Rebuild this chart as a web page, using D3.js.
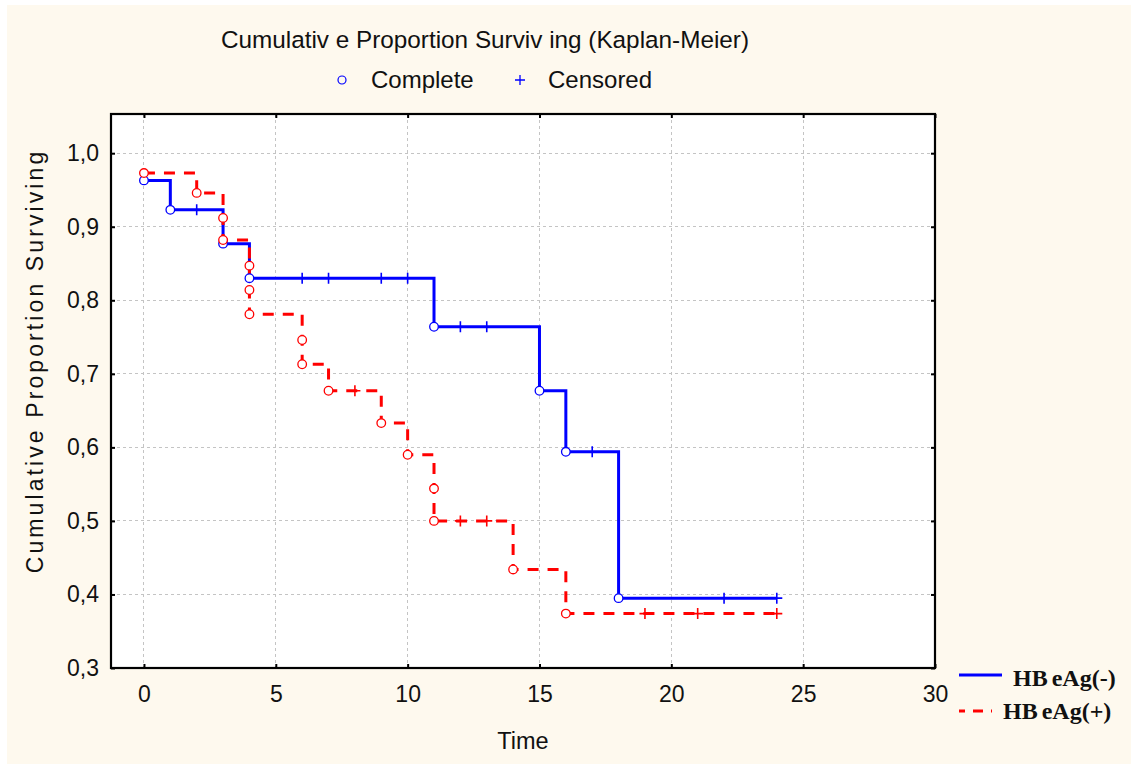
<!DOCTYPE html>
<html>
<head>
<meta charset="utf-8">
<script src="https://cdn.jsdelivr.net/npm/d3@7"></script>
<style>
  html, body { margin: 0; padding: 0; background: #ffffff; }
  svg { display: block; }
</style>
</head>
<body>
<svg id="chart" width="1131" height="765"></svg>
<script>
// Kaplan-Meier records per group: time, survival after the record, status
// ("C" = complete / event, "+" = censored, survival carried forward)
const negTime   = [0, 1, 2, 3, 4, 6, 7, 9, 10, 11, 12, 13, 15, 16, 17, 18, 22, 24];
const negSurv   = [0.963, 0.923, 0.923, 0.877, 0.830, 0.830, 0.830, 0.830, 0.830, 0.764, 0.764, 0.764, 0.677, 0.594, 0.594, 0.395, 0.395, 0.395];
const negStatus = ["C", "C", "+", "C", "C", "+", "+", "+", "+", "C", "+", "+", "C", "C", "+", "C", "+", "+"];

const posTime   = [0, 2, 3, 3, 4, 4, 4, 6, 6, 7, 8, 9, 10, 11, 11, 12, 13, 14, 16, 19, 21, 24];
const posSurv   = [0.973, 0.946, 0.912, 0.882, 0.847, 0.814, 0.781, 0.746, 0.713, 0.677, 0.677, 0.633, 0.590, 0.544, 0.500, 0.500, 0.500, 0.434, 0.374, 0.374, 0.374, 0.374];
const posStatus = ["C", "C", "C", "C", "C", "C", "C", "C", "C", "C", "+", "C", "C", "C", "C", "+", "+", "C", "C", "+", "+", "+"];

const groupNames = ["HBeAg(-)", "HBeAg(+)"];
const xTicks = [0, 5, 10, 15, 20, 25, 30];
const yTicks = [0.3, 0.4, 0.5, 0.6, 0.7, 0.8, 0.9, 1.0];

const chartTitle = "Cumulativ e Proportion Surviv ing (Kaplan-Meier)";
const xTitle = "Time";
const yTitle = "Cumulative Proportion Surviving";

const sans = "'Liberation Sans', Arial, sans-serif";
const serif = "'Liberation Serif', 'Times New Roman', serif";

const svg = d3.select("#chart");

// page background
svg.append("rect").attr("x", 7).attr("y", 5).attr("width", 1124).attr("height", 759)
  .attr("fill", "#fef9ee");

const plot = { left: 111, top: 114, right: 935, bottom: 668 };

const x = d3.scaleLinear().domain([-1.25, 30]).range([plot.left, plot.right]);
const y = d3.scaleLinear().domain([0.3, 1.0533]).range([plot.bottom, plot.top]);

// plot area
svg.append("rect")
  .attr("x", plot.left).attr("y", plot.top)
  .attr("width", plot.right - plot.left).attr("height", plot.bottom - plot.top)
  .attr("fill", "#ffffff");

// grid lines
const grid = svg.append("g").attr("stroke", "#c4c4c4").attr("stroke-width", 1)
  .attr("stroke-dasharray", "3,3").attr("shape-rendering", "crispEdges");
grid.selectAll("line.v").data(xTicks.filter(t => t < 30)).join("line")
  .attr("class", "v")
  .attr("x1", d => x(d)).attr("x2", d => x(d))
  .attr("y1", plot.top).attr("y2", plot.bottom);
grid.selectAll("line.h").data(yTicks.filter(t => t > 0.3)).join("line")
  .attr("class", "h")
  .attr("x1", plot.left).attr("x2", plot.right)
  .attr("y1", d => y(d)).attr("y2", d => y(d));

// axes with inward ticks
const fmt = d => d.toFixed(1).replace(".", ",");
const axisBottom = d3.axisBottom(x).tickValues(xTicks).tickSize(-4).tickPadding(17.5).tickFormat(d3.format("d"));
const axisTop = d3.axisTop(x).tickValues(xTicks).tickSize(-4).tickFormat("");
const axisLeft = d3.axisLeft(y).tickValues(yTicks).tickSize(-4).tickPadding(12).tickFormat(fmt);
const axisRight = d3.axisRight(y).tickValues(yTicks).tickSize(-4).tickFormat("");

function styleAxis(g) {
  g.select(".domain").remove();
  g.selectAll(".tick line").attr("stroke", "#000").attr("stroke-width", 2);
  g.selectAll(".tick text").attr("fill", "#111").style("font-family", sans).style("font-size", "23px");
}
svg.append("g").attr("transform", `translate(0,${plot.bottom})`).call(axisBottom).call(styleAxis);
svg.append("g").attr("transform", `translate(0,${plot.top})`).call(axisTop).call(styleAxis);
svg.append("g").attr("transform", `translate(${plot.left},0)`).call(axisLeft).call(styleAxis);
svg.append("g").attr("transform", `translate(${plot.right},0)`).call(axisRight).call(styleAxis);

// frame
svg.append("rect")
  .attr("x", plot.left).attr("y", plot.top)
  .attr("width", plot.right - plot.left).attr("height", plot.bottom - plot.top)
  .attr("fill", "none").attr("stroke", "#000").attr("stroke-width", 2.2);

// survival curves
const groups = [
  { name: groupNames[0], time: negTime, surv: negSurv, status: negStatus, color: "#0000ff", dash: null },
  { name: groupNames[1], time: posTime, surv: posSurv, status: posStatus, color: "#ff0000", dash: "11,9" }
];
groups.forEach(g => {
  g.pts = g.time.map((t, i) => ({ t, s: g.surv[i], st: g.status[i] }));
});

const stepLine = d3.line().x(d => x(d.t)).y(d => y(d.s)).curve(d3.curveStepAfter);

const lines = svg.append("g");
groups.forEach(g => {
  lines.append("path")
    .datum(g.pts)
    .attr("d", stepLine)
    .attr("fill", "none")
    .attr("stroke", g.color)
    .attr("stroke-width", 3)
    .attr("stroke-dasharray", g.dash);
});

const marks = svg.append("g");
groups.forEach(g => {
  const mg = marks.append("g");
  mg.selectAll("circle").data(g.pts.filter(p => p.st === "C")).join("circle")
    .attr("cx", d => x(d.t)).attr("cy", d => y(d.s)).attr("r", 4.3)
    .attr("fill", "#ffffff").attr("stroke", g.color).attr("stroke-width", 1.3);
  mg.selectAll("path").data(g.pts.filter(p => p.st === "+")).join("path")
    .attr("d", d => {
      const cx = x(d.t), cy = y(d.s), h = 5.5;
      return `M${cx - h},${cy}H${cx + h}M${cx},${cy - h}V${cy + h}`;
    })
    .attr("stroke", g.color).attr("stroke-width", 1.6).attr("fill", "none");
});

// titles
svg.append("text").attr("x", 221).attr("y", 48)
  .style("font-family", sans).style("font-size", "24.3px").attr("fill", "#111")
  .text(chartTitle);

svg.append("text").attr("x", (plot.left + plot.right) / 2).attr("y", 749).attr("text-anchor", "middle")
  .style("font-family", sans).style("font-size", "23.5px").attr("fill", "#111")
  .text(xTitle);

svg.append("text")
  .attr("transform", "translate(43,361) rotate(-90)")
  .attr("text-anchor", "middle")
  .style("font-family", sans).style("font-size", "23px").style("letter-spacing", "3.1px")
  .attr("fill", "#111")
  .text(yTitle);

// marker legend
const mLeg = svg.append("g");
mLeg.append("circle").attr("cx", 342).attr("cy", 80).attr("r", 4)
  .attr("fill", "none").attr("stroke", "#0000ff").attr("stroke-width", 1.2);
mLeg.append("text").attr("x", 371).attr("y", 88)
  .style("font-family", sans).style("font-size", "24px").attr("fill", "#111").text("Complete");
mLeg.append("path").attr("d", "M515,80H525M520,75V85")
  .attr("stroke", "#0000ff").attr("stroke-width", 1.3);
mLeg.append("text").attr("x", 548).attr("y", 88)
  .style("font-family", sans).style("font-size", "24px").attr("fill", "#111").text("Censored");

// group legend
function legendLabel(text, xPos, yPos) {
  const t = svg.append("text").attr("x", xPos).attr("y", yPos)
    .style("font-family", serif).style("font-size", "24px").style("font-weight", "bold")
    .attr("fill", "#111");
  t.append("tspan").text(text.slice(0, 2));
  t.append("tspan").attr("dx", 4).text(text.slice(2));
}
svg.append("line").attr("x1", 959).attr("x2", 1002).attr("y1", 675).attr("y2", 675)
  .attr("stroke", groups[0].color).attr("stroke-width", 3);
legendLabel(groups[0].name, 1013, 686);
svg.append("line").attr("x1", 959).attr("x2", 992).attr("y1", 711).attr("y2", 711)
  .attr("stroke", groups[1].color).attr("stroke-width", 3).attr("stroke-dasharray", "6,8,10,8");
legendLabel(groups[1].name, 1003, 719);
</script>
</body>
</html>
